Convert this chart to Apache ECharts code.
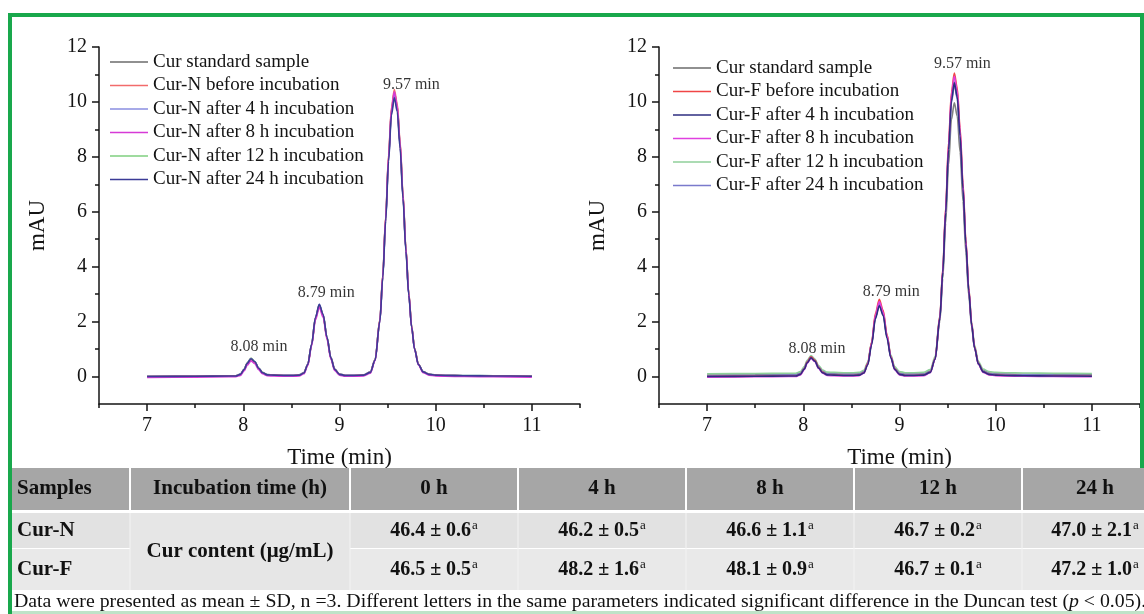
<!DOCTYPE html>
<html><head><meta charset="utf-8">
<script src="https://cdn.jsdelivr.net/npm/echarts@6/dist/echarts.min.js"></script>
<style>html,body{margin:0;padding:0;background:#fff}#c{width:1144px;height:614px}</style>
</head><body><div id="c"></div>
<script>
// ---------- data ----------
const times = [7.0,7.5,7.85,7.92,7.97,8.01,8.04,8.08,8.12,8.16,8.2,8.25,8.32,8.42,8.52,8.58,8.63,8.67,8.71,8.75,8.79,8.83,8.87,8.91,8.95,9.0,9.06,9.15,9.25,9.32,9.37,9.42,9.45,9.48,9.51,9.54,9.57,9.6,9.63,9.66,9.69,9.72,9.75,9.78,9.82,9.87,9.93,10.0,10.1,10.3,10.6,11.0];

const namesN = ['Cur standard sample','Cur-N before incubation','Cur-N after 4 h incubation','Cur-N after 8 h incubation','Cur-N after 12 h incubation','Cur-N after 24 h incubation'];
const namesF = ['Cur standard sample','Cur-F before incubation','Cur-F after 4 h incubation','Cur-F after 8 h incubation','Cur-F after 12 h incubation','Cur-F after 24 h incubation'];

const nStd = [0.00,0.01,0.02,0.02,0.08,0.26,0.49,0.66,0.54,0.30,0.14,0.06,0.05,0.04,0.04,0.05,0.13,0.44,1.16,2.13,2.60,2.23,1.42,0.68,0.26,0.08,0.04,0.04,0.05,0.15,0.61,2.05,3.66,5.75,7.95,9.66,10.30,9.80,8.44,6.57,4.64,3.01,1.81,1.02,0.44,0.17,0.08,0.05,0.04,0.03,0.02,0.01];
const nH0  = [0.00,0.01,0.02,0.02,0.07,0.25,0.46,0.62,0.51,0.29,0.13,0.06,0.05,0.04,0.04,0.05,0.13,0.43,1.15,2.11,2.58,2.22,1.40,0.68,0.26,0.08,0.04,0.04,0.05,0.15,0.61,2.08,3.71,5.83,8.07,9.80,10.45,9.94,8.56,6.67,4.70,3.05,1.84,1.03,0.45,0.17,0.08,0.05,0.04,0.03,0.02,0.01];
const nH4  = [0.01,0.02,0.03,0.03,0.09,0.26,0.48,0.65,0.54,0.31,0.14,0.07,0.06,0.05,0.05,0.06,0.14,0.45,1.17,2.15,2.62,2.25,1.43,0.69,0.27,0.09,0.05,0.05,0.06,0.16,0.61,2.05,3.65,5.73,7.92,9.62,10.26,9.76,8.41,6.55,4.62,3.00,1.81,1.02,0.45,0.18,0.09,0.06,0.05,0.04,0.03,0.02];
const nH8  = [-0.03,-0.02,-0.01,-0.01,0.04,0.21,0.41,0.57,0.47,0.25,0.10,0.03,0.02,0.01,0.01,0.02,0.10,0.40,1.11,2.06,2.52,2.16,1.36,0.64,0.22,0.05,0.01,0.01,0.02,0.12,0.58,2.04,3.66,5.77,8.00,9.73,10.37,9.86,8.49,6.61,4.65,3.01,1.80,0.99,0.42,0.14,0.05,0.02,0.01,0.00,-0.01,-0.02];
const nH12 = [0.01,0.02,0.03,0.03,0.09,0.27,0.49,0.66,0.55,0.31,0.15,0.07,0.06,0.05,0.05,0.06,0.14,0.44,1.16,2.13,2.60,2.23,1.42,0.69,0.27,0.09,0.05,0.05,0.06,0.16,0.62,2.07,3.68,5.79,8.00,9.72,10.36,9.85,8.49,6.61,4.67,3.03,1.83,1.03,0.45,0.18,0.09,0.06,0.05,0.04,0.03,0.02];
const nH24 = [0.00,0.01,0.02,0.02,0.08,0.26,0.48,0.65,0.54,0.30,0.14,0.06,0.05,0.04,0.04,0.05,0.13,0.44,1.17,2.15,2.63,2.26,1.43,0.69,0.26,0.08,0.04,0.04,0.05,0.15,0.60,2.02,3.60,5.66,7.84,9.52,10.15,9.65,8.31,6.48,4.57,2.96,1.79,1.00,0.44,0.17,0.08,0.05,0.04,0.03,0.02,0.01];

const fStd = [0.05,0.06,0.07,0.07,0.13,0.32,0.55,0.73,0.61,0.36,0.19,0.11,0.10,0.09,0.09,0.10,0.18,0.48,1.20,2.16,2.63,2.27,1.45,0.73,0.31,0.13,0.09,0.09,0.10,0.20,0.64,2.02,3.57,5.59,7.71,9.36,9.97,9.48,8.17,6.38,4.51,2.95,1.80,1.03,0.48,0.22,0.13,0.10,0.09,0.08,0.07,0.06];
const fH0  = [0.00,0.01,0.02,0.02,0.08,0.28,0.53,0.72,0.59,0.33,0.15,0.06,0.05,0.04,0.04,0.05,0.14,0.47,1.25,2.30,2.81,2.41,1.53,0.73,0.28,0.08,0.04,0.04,0.05,0.16,0.65,2.20,3.92,6.16,8.53,10.36,11.05,10.51,9.05,7.05,4.97,3.22,1.93,1.08,0.47,0.18,0.08,0.05,0.04,0.03,0.02,0.01];
const fH4  = [0.00,0.01,0.02,0.02,0.08,0.27,0.50,0.68,0.56,0.31,0.14,0.06,0.05,0.04,0.04,0.05,0.13,0.43,1.15,2.11,2.58,2.22,1.40,0.68,0.26,0.08,0.04,0.04,0.05,0.15,0.63,2.13,3.80,5.97,8.26,10.04,10.70,10.18,8.76,6.83,4.82,3.12,1.88,1.05,0.46,0.17,0.08,0.05,0.04,0.03,0.02,0.01];
const fH8  = [-0.02,-0.01,0.00,0.00,0.06,0.25,0.48,0.66,0.54,0.29,0.12,0.04,0.03,0.02,0.02,0.03,0.12,0.44,1.20,2.23,2.73,2.34,1.48,0.70,0.25,0.06,0.02,0.02,0.03,0.14,0.62,2.16,3.86,6.09,8.43,10.25,10.93,10.39,8.95,6.97,4.91,3.17,1.90,1.05,0.44,0.15,0.06,0.03,0.02,0.01,0.00,-0.01];
const fH12 = [0.10,0.11,0.12,0.12,0.18,0.36,0.59,0.76,0.64,0.40,0.24,0.16,0.15,0.14,0.14,0.15,0.23,0.53,1.25,2.22,2.69,2.32,1.51,0.78,0.36,0.18,0.14,0.14,0.15,0.25,0.73,2.22,3.88,6.04,8.32,10.09,10.75,10.23,8.82,6.90,4.89,3.21,1.97,1.15,0.55,0.27,0.18,0.15,0.14,0.13,0.12,0.11];
const fH24 = [0.03,0.04,0.05,0.05,0.11,0.30,0.54,0.72,0.60,0.35,0.17,0.09,0.08,0.07,0.07,0.08,0.16,0.47,1.20,2.17,2.65,2.28,1.46,0.72,0.29,0.11,0.07,0.07,0.08,0.18,0.65,2.14,3.79,5.94,8.21,9.97,10.63,10.11,8.71,6.79,4.80,3.12,1.89,1.07,0.48,0.20,0.11,0.08,0.07,0.06,0.05,0.04];

const peakTimes = [8.08, 8.79, 9.57];

const xMajorTicks = [7, 8, 9, 10, 11];
const xMinorTicks = [6.5, 7.5, 8.5, 9.5, 10.5, 11.5];
const yMajorTicks = [0, 2, 4, 6, 8, 10, 12];
const yMinorTicks = [1, 3, 5, 7, 9, 11];

const tableHeader = ['Samples', 'Incubation time (h)', '0 h', '4 h', '8 h', '12 h', '24 h'];
const sampleNames = ['Cur-N', 'Cur-F'];
const contentLabel = 'Cur content (μg/mL)';
const curNMean = [46.4, 46.2, 46.6, 46.7, 47.0];
const curNSD   = [0.6, 0.5, 1.1, 0.2, 2.1];
const curFMean = [46.5, 48.2, 48.1, 46.7, 47.2];
const curFSD   = [0.5, 1.6, 0.9, 0.1, 1.0];
const curNSig  = ['a', 'a', 'a', 'a', 'a'];
const curFSig  = ['a', 'a', 'a', 'a', 'a'];
const footnoteA = 'Data were presented as mean ± SD, n =3. Different letters in the same parameters indicated significant difference in the Duncan test (';
const footnoteP = 'p';
const footnoteB = ' < 0.05).';

// ---------- styles ----------
const SERIF = '"Liberation Serif", "Times New Roman", serif';
const INK = '#141414';
const colorsN = ['#6b6b6b', '#f26b6b', '#8a8ee0', '#d63ad6', '#7fcf7f', '#3b3b96'];
const zN = [2, 4, 3, 5, 2, 6];
const colorsF = ['#808080', '#f04545', '#2e2e80', '#e040e0', '#8fcf9a', '#7a7acc'];
const zF = [1, 4, 6, 5, 2, 3];
const grids = [
  { left: 99, top: 47, width: 481, height: 357 },
  { left: 659, top: 47, width: 481, height: 357 }
];
const labelOffsets = [
  [[8, -4], [7, -4], [17, 3.5]],
  [[6, 1], [12, 0], [8, -1]]
];

const dataN = [nStd, nH0, nH4, nH8, nH12, nH24];
const dataF = [fStd, fH0, fH4, fH8, fH12, fH24];

function axesFor(g) {
  const lineSt = { color: INK, width: 1.5 };
  const x = [
    { gridIndex: g, type: 'value', position: 'bottom', min: 6.5, max: 11.5,
      axisLine: { show: true, onZero: false, lineStyle: lineSt },
      axisTick: { show: true, inside: false, length: 7, customValues: xMajorTicks, lineStyle: lineSt },
      axisLabel: { show: true, customValues: xMajorTicks, margin: 12, fontSize: 20, fontFamily: SERIF, color: INK },
      splitLine: { show: false },
      name: 'Time (min)', nameLocation: 'middle', nameGap: 42,
      nameTextStyle: { fontSize: 23, fontFamily: SERIF, color: INK } },
    { gridIndex: g, type: 'value', position: 'bottom', min: 6.5, max: 11.5,
      axisLine: { show: false, onZero: false },
      axisTick: { show: true, inside: false, length: 4, customValues: xMinorTicks, lineStyle: lineSt },
      axisLabel: { show: false }, splitLine: { show: false } }
  ];
  const y = [
    { gridIndex: g, type: 'value', position: 'left', min: -1, max: 12,
      axisLine: { show: true, onZero: false, lineStyle: lineSt },
      axisTick: { show: true, inside: false, length: 7, customValues: yMajorTicks, lineStyle: lineSt },
      axisLabel: { show: true, customValues: yMajorTicks, margin: 12, fontSize: 20, fontFamily: SERIF, color: INK },
      splitLine: { show: false },
      name: 'mAU', nameLocation: 'middle', nameGap: 50,
      nameTextStyle: { fontSize: 23, fontFamily: SERIF, color: INK } },
    { gridIndex: g, type: 'value', position: 'left', min: -1, max: 12,
      axisLine: { show: false, onZero: false },
      axisTick: { show: true, inside: false, length: 4, customValues: yMinorTicks, lineStyle: lineSt },
      axisLabel: { show: false }, splitLine: { show: false } }
  ];
  return { x, y };
}

const xAxis = [], yAxis = [];
[0, 1].forEach(g => { const a = axesFor(g); xAxis.push(...a.x); yAxis.push(...a.y); });

const series = [];
function addChart(g, names, datas, colors, zs) {
  names.forEach((nm, i) => {
    series.push({
      type: 'line', name: nm, xAxisIndex: g * 2, yAxisIndex: g * 2,
      data: times.map((t, k) => [t, datas[i][k]]),
      symbol: 'none', smooth: 0.3, smoothMonotone: 'x',
      lineStyle: { color: colors[i], width: 1.6 }, itemStyle: { color: colors[i] },
      z: zs[i], silent: true
    });
  });
  const pts = peakTimes.map((pt, j) => {
    const k = times.indexOf(pt);
    const h = Math.max(...datas.map(d => d[k]));
    return { value: [pt, h], label: { offset: labelOffsets[g][j] } };
  });
  series.push({
    type: 'scatter', name: 'peaks' + g, xAxisIndex: g * 2, yAxisIndex: g * 2,
    data: pts, symbolSize: 0, itemStyle: { color: 'rgba(0,0,0,0)' }, z: 10, silent: true,
    label: { show: true, position: 'top', distance: 0, fontSize: 16, fontFamily: SERIF, color: '#000',
      formatter: p => p.value[0].toFixed(2) + ' min' }
  });
}
addChart(0, namesN, dataN, colorsN, zN);
addChart(1, namesF, dataF, colorsF, zF);

const legendCommon = {
  orient: 'vertical', icon: 'rect', itemWidth: 38, itemHeight: 1.6, itemGap: 1.5, padding: 0,
  textStyle: { fontSize: 19, fontFamily: SERIF, color: INK, lineHeight: 22 },
  selectedMode: false
};

// ---------- table & frame graphics ----------
const graphic = [];
const GREEN = '#19a84c';
graphic.push({ type: 'rect', shape: { x: 8, y: 13, width: 1136, height: 4 }, style: { fill: GREEN }, z: 100 });
graphic.push({ type: 'rect', shape: { x: 8, y: 13, width: 4, height: 601 }, style: { fill: GREEN }, z: 100 });
graphic.push({ type: 'rect', shape: { x: 1140, y: 13, width: 4, height: 455 }, style: { fill: GREEN }, z: 100 });
graphic.push({ type: 'rect', shape: { x: 12, y: 611, width: 1132, height: 3 }, style: { fill: '#bfe3c8' }, z: 100 });

const colX = [12, 130, 350, 518, 686, 854, 1022, 1168];
const hdrY = 468, hdrH = 42, r1Y = 513, r1H = 35, r2Y = 549, r2H = 41;
graphic.push({ type: 'rect', shape: { x: 12, y: hdrY, width: 1132, height: hdrH }, style: { fill: '#a6a6a6' }, z: 50 });
graphic.push({ type: 'rect', shape: { x: 12, y: r1Y, width: 1132, height: r1H }, style: { fill: '#e2e2e2' }, z: 50 });
graphic.push({ type: 'rect', shape: { x: 12, y: r2Y, width: 1132, height: r2H }, style: { fill: '#e9e9e9' }, z: 50 });
graphic.push({ type: 'rect', shape: { x: colX[1], y: r1Y, width: colX[2] - colX[1], height: r1H + r2H + 1 }, style: { fill: '#e6e6e6' }, z: 51 });
for (let i = 1; i < colX.length - 1; i++) {
  graphic.push({ type: 'rect', shape: { x: colX[i] - 1, y: hdrY, width: 2, height: hdrH }, style: { fill: '#ffffff' }, z: 52 });
  graphic.push({ type: 'rect', shape: { x: colX[i] - 0.5, y: r1Y, width: 1, height: r1H + r2H + 1 }, style: { fill: '#f4f4f4' }, z: 52 });
}
const TF = 21, VF = 20;
const cx = i => (colX[i] + colX[i + 1]) / 2;
function txt(text, x, y, opts) {
  graphic.push({ type: 'text', z: 60, style: Object.assign({
    text, x, y, fontSize: TF, fontFamily: SERIF, fontWeight: 'bold', fill: '#111',
    align: 'center', verticalAlign: 'middle', textAlign: 'center', textVerticalAlign: 'middle'
  }, opts || {}) });
}
const hdrC = hdrY + hdrH / 2, r1C = r1Y + r1H / 2, r2C = r2Y + r2H / 2;
tableHeader.forEach((h, i) => {
  if (i === 0) txt(h, 17, hdrC, { align: 'left', textAlign: 'left' });
  else txt(h, cx(i), hdrC);
});
txt(sampleNames[0], 17, r1C, { align: 'left', textAlign: 'left' });
txt(sampleNames[1], 17, r2C, { align: 'left', textAlign: 'left' });
txt(contentLabel, cx(1), (r1Y + r2Y + r2H) / 2);
const richVal = {
  v: { fontSize: VF, fontFamily: SERIF, fontWeight: 'bold', fill: '#111', lineHeight: 22 },
  pm: { fontSize: VF, fontFamily: SERIF, fontWeight: 'bold', fill: '#111', lineHeight: 22, padding: [0, 5, 0, 5] },
  s: { fontSize: 13, fontFamily: SERIF, fill: '#111', lineHeight: 22, verticalAlign: 'top', padding: [0, 0, 0, 1] }
};
function valueCell(mean, sd, sig, x, y) {
  graphic.push({ type: 'text', z: 60, style: {
    text: '{v|' + mean.toFixed(1) + '}{pm|±}{v|' + sd.toFixed(1) + '}{s|' + sig + '}',
    x, y, rich: richVal, align: 'center', verticalAlign: 'middle', textAlign: 'center', textVerticalAlign: 'middle'
  } });
}
curNMean.forEach((m, i) => valueCell(m, curNSD[i], curNSig[i], cx(i + 2), r1C));
curFMean.forEach((m, i) => valueCell(m, curFSD[i], curFSig[i], cx(i + 2), r2C));
graphic.push({ type: 'text', z: 60, style: {
  text: '{n|' + footnoteA + '}{i|' + footnoteP + '}{n|' + footnoteB + '}',
  x: 14, y: 602, align: 'left', verticalAlign: 'middle', textAlign: 'left', textVerticalAlign: 'middle',
  rich: {
    n: { fontSize: 19.8, fontFamily: SERIF, fill: '#111' },
    i: { fontSize: 19.8, fontFamily: SERIF, fontStyle: 'italic', fill: '#111' }
  }
} });

const option = {
  animation: false,
  backgroundColor: '#ffffff',
  grid: grids,
  xAxis, yAxis, series,
  legend: [
    Object.assign({ data: namesN, left: 110, top: 51 }, legendCommon),
    Object.assign({ data: namesF, left: 673, top: 57 }, legendCommon)
  ],
  graphic
};
const chart = echarts.init(document.getElementById('c'), null, { renderer: 'canvas' });
chart.setOption(option);
</script></body></html>
